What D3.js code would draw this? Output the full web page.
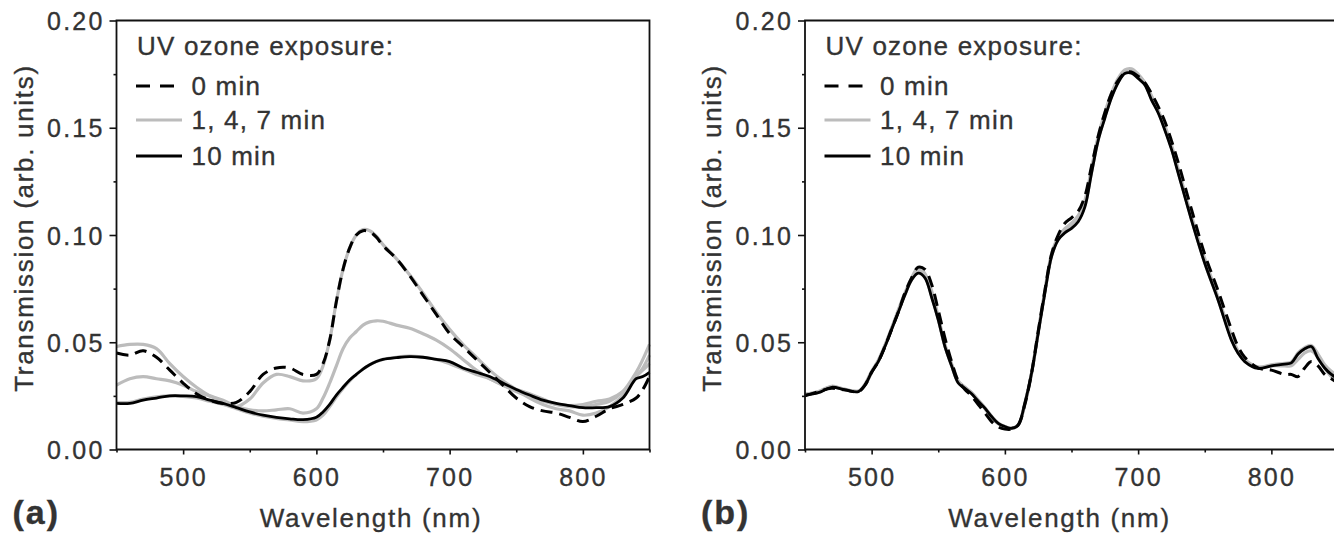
<!DOCTYPE html>
<html>
<head>
<meta charset="utf-8">
<script src="https://cdn.jsdelivr.net/npm/d3@7"></script>
<style>
  html, body { margin: 0; padding: 0; background: #fff; }
  svg { display: block; }
  text { font-family: "Liberation Sans", Arial, sans-serif; fill: #333; stroke: #333; stroke-width: 0.35px; }
</style>
</head>
<body>
<svg id="chart" width="1334" height="533"></svg>
<script>
// ---------------- DATA ----------------
const wlA = [450,460,470,480,490,500,510,520,530,540,550,560,570,580,590,600,605,610,615,620,625,630,635,640,645,650,660,670,680,690,700,710,720,730,740,750,760,770,780,790,800,810,820,830,840,845,850];
const a0min  = [.045,.044,.046,.043,.037,.031,.026,.023,.0215,.022,.027,.035,.038,.038,.035,.035,.040,.051,.069,.084,.094,.100,.102,.1015,.099,.095,.089,.081,.072,.063,.054,.048,.042,.036,.030,.024,.020,.018,.017,.015,.013,.0155,.019,.021,.024,.028,.034];
const a1min  = [.048,.049,.049,.047,.040,.034,.029,.025,.022,.020,.0235,.031,.035,.034,.032,.033,.039,.051,.069,.084,.094,.100,.1025,.102,.0995,.0955,.089,.0815,.073,.064,.056,.049,.043,.037,.032,.028,.024,.021,.019,.018,.016,.017,.020,.025,.034,.038,.044];
const a4min  = [.030,.033,.034,.033,.032,.030,.027,.025,.023,.020,.0185,.018,.0185,.019,.017,.019,.024,.031,.039,.047,.052,.055,.058,.0595,.060,.0598,.058,.0565,.054,.051,.047,.042,.037,.033,.030,.028,.026,.0235,.021,.020,.020,.021,.0225,.027,.036,.042,.049];
const a7min  = [.022,.022,.0235,.0245,.025,.0248,.024,.0225,.021,.019,.017,.0155,.0145,.0138,.013,.0138,.016,.020,.0245,.0285,.032,.035,.0375,.0395,.041,.042,.043,.0435,.043,.042,.040,.0375,.035,.033,.030,.027,.0245,.0225,.021,.0205,.021,.0225,.0235,.027,.034,.037,.040];
const a10min = [.0215,.0215,.023,.024,.025,.025,.0247,.023,.0215,.0195,.0175,.016,.015,.0143,.0139,.015,.0175,.021,.0254,.029,.0324,.035,.0375,.0395,.041,.042,.0428,.0433,.043,.042,.041,.038,.036,.034,.031,.028,.0254,.023,.0215,.0205,.0195,.0195,.020,.024,.033,.034,.036];

const wlB = [450,460,470,480,490,495,500,505,510,515,520,525,530,535,540,545,550,555,560,565,570,575,580,585,590,595,600,605,610,615,620,625,630,635,640,645,650,655,660,665,670,675,680,685,690,695,700,705,710,715,720,725,730,740,750,760,770,775,780,790,800,810,815,820,825,830,835,840,845,850];
const b0min  = [.025,.027,.0285,.0278,.027,.030,.036,.041,.048,.056,.064,.073,.080,.085,.084,.077,.065,.052,.041,.032,.028,.025,.021,.017,.013,.0105,.0095,.0095,.0115,.021,.0355,.055,.074,.091,.100,.1055,.108,.111,.118,.132,.146,.157,.166,.172,.1755,.176,.174,.171,.166,.160,.153,.144,.134,.112,.091,.074,.056,.048,.043,.038,.037,.035,.035,.034,.038,.041,.039,.035,.033,.031];
const b1min  = [.0255,.027,.0295,.028,.0272,.030,.036,.0415,.0485,.0565,.065,.073,.080,.0848,.082,.074,.062,.049,.040,.032,.029,.0265,.023,.019,.015,.012,.0105,.0098,.0113,.021,.0355,.055,.074,.091,.099,.103,.1055,.109,.116,.131,.146,.157,.166,.173,.177,.1775,.175,.171,.165,.158,.151,.142,.131,.109,.089,.071,.053,.046,.042,.0385,.039,.039,.039,.042,.045,.046,.043,.038,.034,.032];
const b4min  = [.0258,.0268,.0293,.028,.0272,.0305,.0365,.0415,.0485,.0565,.0645,.0725,.0795,.0835,.081,.072,.061,.0485,.0395,.0315,.029,.0265,.023,.0195,.0155,.0123,.0107,.0099,.0114,.0216,.0355,.0545,.0735,.0905,.0985,.1025,.1045,.108,.115,.130,.145,.1555,.165,.172,.1765,.177,.1745,.171,.164,.158,.150,.141,.130,.108,.0875,.0705,.052,.0455,.0415,.038,.0392,.040,.0405,.0445,.0468,.0475,.044,.039,.036,.034];
const b7min  = [.0256,.0266,.0291,.0279,.0271,.0302,.0362,.0412,.0482,.0562,.0642,.0722,.0792,.0828,.0805,.0715,.0607,.0482,.0392,.0312,.0288,.0262,.0228,.0194,.0155,.0122,.0107,.0099,.0114,.0216,.0355,.0543,.0732,.090,.098,.1015,.1038,.107,.114,.129,.1445,.155,.1645,.1715,.176,.1765,.174,.1705,.1635,.1575,.1495,.1405,.1295,.1075,.087,.070,.0515,.0452,.0412,.0382,.0395,.0402,.0408,.045,.0475,.0485,.0445,.0395,.0365,.0345];
const b10min = [.0254,.0265,.029,.0278,.027,.030,.036,.041,.048,.056,.064,.072,.079,.0822,.080,.071,.0604,.048,.039,.031,.0285,.026,.0225,.0193,.0154,.0122,.0107,.0099,.0114,.0216,.0355,.0542,.073,.0899,.0977,.101,.1031,.1062,.113,.1287,.144,.1544,.164,.171,.1753,.1755,.173,.170,.163,.157,.149,.140,.129,.107,.0868,.0697,.051,.0449,.041,.0378,.039,.0398,.0404,.0445,.047,.048,.0424,.038,.035,.033];

const xMajor = [500,600,700,800];
const xMinor = [450,550,650,750,850];
const yMajor = [0,0.05,0.10,0.15,0.20];
const yMinor = [0.025,0.075,0.125,0.175];
const legendTitle = "UV ozone exposure:";
const legendLabels = ["0 min","1, 4, 7 min","10 min"];
const panelLabels = ["(a)","(b)"];
const xTitle = "Wavelength (nm)";
const yTitle = "Transmission (arb. units)";

// ---------------- DRAW ----------------
const svg = d3.select("#chart");
const GRAY = "#bcbcbc", BLACK = "#000";

const panels = [
  { left: 116.5, wl: wlA, gray: [a1min, a4min, a7min], dashed: a0min, solid: a10min, label: panelLabels[0] },
  { left: 805,   wl: wlB, gray: [b1min, b4min, b7min], dashed: b0min, solid: b10min, label: panelLabels[1] }
];
const plotTop = 20.5, plotBottom = 449.5, plotW = 533;

const y = d3.scaleLinear().domain([0, 0.2]).range([plotBottom, plotTop]);

panels.forEach((p, i) => {
  const x = d3.scaleLinear().domain([450, 850]).range([p.left, p.left + plotW]);
  const g = svg.append("g");

  const line = vals => d3.line()
    .x((d, k) => x(p.wl[k]))
    .y(d => y(d))
    .curve(d3.curveCatmullRom.alpha(0.5))(vals);

  // data
  p.gray.forEach(s => g.append("path").attr("d", line(s))
    .attr("fill", "none").attr("stroke", GRAY).attr("stroke-width", 3.2).attr("stroke-linejoin", "round"));
  g.append("path").attr("d", line(p.dashed))
    .attr("fill", "none").attr("stroke", BLACK).attr("stroke-width", 3)
    .attr("stroke-dasharray", "12,7");
  g.append("path").attr("d", line(p.solid))
    .attr("fill", "none").attr("stroke", BLACK).attr("stroke-width", 2.8).attr("stroke-linejoin", "round");

  // axes
  const yAx = g.append("g").attr("transform", `translate(${p.left},0)`)
    .call(d3.axisLeft(y).tickValues(yMajor).tickSize(7).tickPadding(5).tickFormat(d3.format(".2f")));
  g.append("g").attr("transform", `translate(${p.left},0)`)
    .call(d3.axisLeft(y).tickValues(yMinor).tickSize(3).tickFormat(""));
  const xAx = g.append("g").attr("transform", `translate(0,${plotBottom})`)
    .call(d3.axisBottom(x).tickValues(xMajor).tickSize(5).tickPadding(14));
  g.append("g").attr("transform", `translate(0,${plotBottom})`)
    .call(d3.axisBottom(x).tickValues(xMinor).tickSize(3).tickFormat(""));
  g.selectAll(".domain").remove();
  g.selectAll(".tick line").attr("stroke", "#111").attr("stroke-width", 1.6);
  g.selectAll(".tick text").attr("font-size", 25).attr("letter-spacing", 2.2)
    .attr("fill", "#333").attr("font-family", '"Liberation Sans", Arial, sans-serif');
  yAx.selectAll(".tick text").attr("dy", "0.36em");

  // frame
  g.append("path")
    .attr("d", `M${p.left},${plotBottom}V${plotTop}H${p.left + plotW}V${plotBottom}Z`)
    .attr("fill", "none").attr("stroke", "#111").attr("stroke-width", 1.8);

  // legend
  const lx = p.left + 19.5;
  g.append("text").attr("x", lx + 1).attr("y", 55).attr("font-size", 26)
    .attr("letter-spacing", 1.2).text(legendTitle);
  const rows = [
    { y: 86, stroke: BLACK, dash: "14,10" },
    { y: 120, stroke: GRAY, dash: null },
    { y: 156, stroke: BLACK, dash: null }
  ];
  rows.forEach((r, k) => {
    g.append("line").attr("x1", lx).attr("x2", lx + 46).attr("y1", r.y).attr("y2", r.y)
      .attr("stroke", r.stroke).attr("stroke-width", 3.2)
      .attr("stroke-dasharray", r.dash);
    g.append("text").attr("x", lx + 55.5).attr("y", r.y + 9).attr("font-size", 26)
      .attr("letter-spacing", 1.2).text(legendLabels[k]);
  });

  // titles
  g.append("text").attr("x", p.left + plotW / 2 - 12).attr("y", 527)
    .attr("text-anchor", "middle").attr("font-size", 26).attr("letter-spacing", 1.7)
    .text(xTitle);
  g.append("text").attr("transform", `translate(${p.left - 84},228) rotate(-90)`)
    .attr("text-anchor", "middle").attr("font-size", 26).attr("letter-spacing", 1.7)
    .text(yTitle);

  // panel label
  g.append("text").attr("x", p.left - 104).attr("y", 524).attr("font-size", 34)
    .attr("font-weight", "bold").attr("letter-spacing", 2).text(p.label);
});
</script>
</body>
</html>
